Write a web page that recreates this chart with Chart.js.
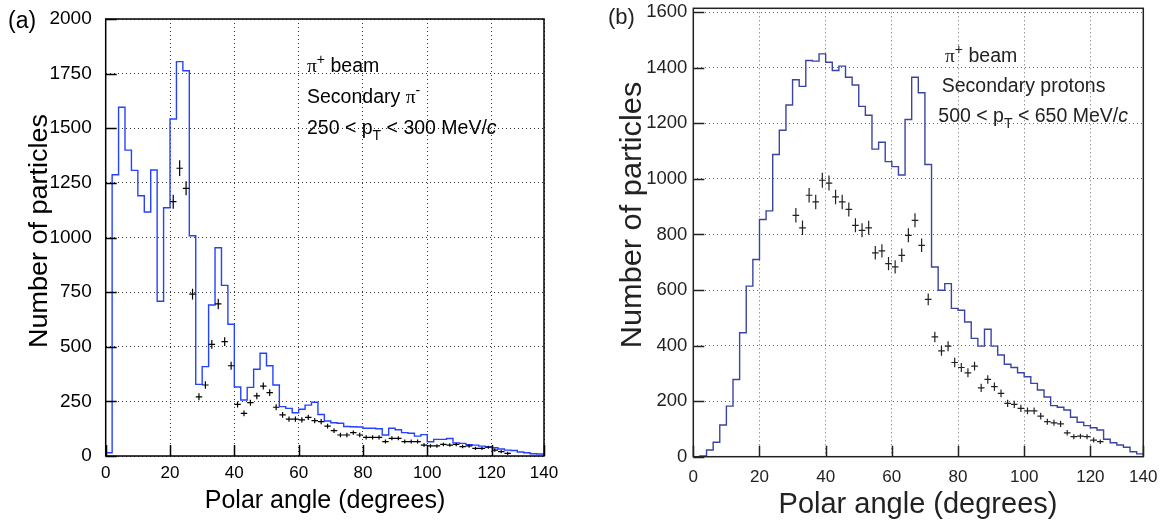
<!DOCTYPE html>
<html>
<head>
<meta charset="utf-8">
<script src="https://cdn.jsdelivr.net/npm/chart.js@4.4.0/dist/chart.umd.min.js"></script>
<style>
  body { margin: 0; background: #fff; }
  #wrap { position: relative; width: 1173px; height: 522px; overflow: hidden; }
  canvas { position: absolute; top: 0; }
  #chartA { left: 0; }
  #chartB { left: 585px; }
</style>
</head>
<body>
<div id="wrap">
  <canvas id="chartA" width="585" height="522"></canvas>
  <canvas id="chartB" width="588" height="522"></canvas>
</div>
<script>
const SANS = "'Liberation Sans', Arial, Helvetica, sans-serif";
const SERIF = "'Liberation Serif', 'Times New Roman', serif";

// left edges of the 2-degree histogram bins (both panels)
const binEdges = [0, 2, 4, 6, 8, 10, 12, 14, 16, 18, 20, 22, 24, 26, 28, 30, 32, 34, 36, 38,
  40, 42, 44, 46, 48, 50, 52, 54, 56, 58, 60, 62, 64, 66, 68, 70, 72, 74, 76, 78,
  80, 82, 84, 86, 88, 90, 92, 94, 96, 98, 100, 102, 104, 106, 108, 110, 112, 114, 116, 118,
  120, 122, 124, 126, 128, 130, 132, 134];

// (a) secondary pi-, simulation histogram
const pimHist = [15, 1287, 1596, 1400, 1307, 1191, 1117, 1309, 708, 1136,
  1542, 1805, 1763, 1008, 328, 409, 691, 953, 781, 603,
  316, 256, 314, 397, 470, 413, 325, 226, 218, 198,
  214, 233, 246, 190, 160, 152, 150, 135, 134, 133,
  127, 127, 125, 96, 127, 120, 107, 104, 91, 98,
  65, 76, 76, 80, 60, 58, 52, 50, 45, 42,
  38, 32, 27, 25, 18, 15, 10, 9];

// (a) measured points
const pimAngle = [21, 23, 25, 27, 29, 31, 33, 35, 37, 39, 41, 43, 45, 47, 49, 51, 53, 55, 57, 59,
  61, 63, 65, 67, 69, 71, 73, 75, 77, 79, 81, 83, 85, 87, 89, 91, 93, 95, 97, 99,
  101, 103, 105, 107, 109, 111, 113, 115, 117, 119, 121, 123, 125];
const pimCounts = [1164, 1317, 1225, 741, 271, 325, 511, 696, 523, 413, 236, 195, 244, 275, 320, 290, 223, 188, 169, 169,
  165, 177, 162, 157, 137, 116, 96, 96, 107, 96, 85, 85, 85, 66, 81, 81, 66, 66, 66, 50,
  46, 46, 53, 50, 53, 43, 46, 35, 35, 40, 27, 20, 12];
const pimErr = [32, 36, 32, 25, 16, 17, 20, 24, 20, 18, 14, 13, 14, 15, 16, 15, 14, 13, 12, 12,
  12, 12, 12, 12, 11, 11, 10, 10, 10, 10, 10, 10, 10, 9, 9, 9, 9, 9, 9, 8,
  8, 8, 8, 8, 8, 8, 8, 7, 7, 7, 7, 7, 7];

// (b) secondary protons, simulation histogram
const protonHist = [0, 3, 24, 52, 114, 182, 278, 446, 614, 710,
  854, 885, 1088, 1175, 1266, 1357, 1333, 1426, 1424, 1450,
  1420, 1390, 1406, 1366, 1338, 1261, 1229, 1107, 1132, 1062,
  1044, 1014, 1214, 1366, 1310, 1052, 683, 599, 623, 534,
  527, 485, 426, 398, 459, 398, 366, 333, 321, 302,
  288, 264, 240, 215, 184, 178, 168, 142, 124, 112,
  104, 96, 63, 50, 42, 34, 18, 10];

// (b) measured points
const protonAngle = [31, 33, 35, 37, 39, 41, 43, 45, 47, 49, 51, 53, 55, 57, 59, 61, 63, 65, 67, 69,
  71, 73, 75, 77, 79, 81, 83, 85, 87, 89, 91, 93, 95, 97, 99, 101, 103, 105, 107, 109,
  111, 113, 115, 117, 119, 121, 123];
const protonCounts = [869, 824, 941, 917, 995, 985, 935, 917, 890, 833, 815, 824, 734, 741, 695, 683, 725, 797, 851, 761,
  566, 431, 381, 398, 339, 321, 302, 326, 248, 278, 252, 228, 192, 188, 174, 165, 165, 146, 126, 122,
  118, 86, 72, 74, 72, 60, 54];
const protonErr = [26, 26, 26, 26, 27, 27, 26, 26, 25, 25, 25, 25, 24, 24, 24, 24, 24, 25, 25, 24,
  21, 19, 18, 18, 17, 16, 16, 16, 15, 15, 15, 14, 13, 13, 13, 12, 12, 12, 11, 11,
  11, 10, 9, 9, 9, 9, 8];

// tick labels; the last x label sits at the right edge of each frame
const xTickLabels = ['0', '20', '40', '60', '80', '100', '120', '140'];
const xTickValsA = [0, 20, 40, 60, 80, 100, 120, 136.3];
const xTickValsB = [0, 20, 40, 60, 80, 100, 120, 136];
const yTicksA = [0, 250, 500, 750, 1000, 1250, 1500, 1750, 2000];
const yTicksB = [0, 200, 400, 600, 800, 1000, 1200, 1400, 1600];

function histPoints(vals, end) {
  const pts = [{ x: binEdges[0], y: 0 }];
  binEdges.forEach((e, i) => pts.push({ x: e, y: vals[i] }));
  pts.push({ x: end, y: vals[vals.length - 1] });
  return pts;
}

function drawRuns(ctx, it) {
  const runs = typeof it.text === 'string' ? [{ t: it.text }] : it.text;
  const fontFor = r => (r.italic ? 'italic ' : '') + (r.sup || r.sub ? it.size * 0.72 : it.size) + 'px ' + (r.serif ? SERIF : SANS);
  ctx.save();
  ctx.fillStyle = it.color;
  ctx.textBaseline = it.baseline || 'alphabetic';
  ctx.textAlign = 'left';
  let total = 0;
  runs.forEach(r => { ctx.font = fontFor(r); total += ctx.measureText(r.t).width; });
  ctx.translate(it.x, it.y);
  if (it.rotate) ctx.rotate(it.rotate);
  if (it.stretch) ctx.scale(it.stretch, 1);
  let cx = it.center ? -total / 2 : 0;
  runs.forEach(r => {
    ctx.font = fontFor(r);
    const dy = r.sup ? -it.size * 0.42 : r.sub ? it.size * 0.32 : 0;
    ctx.fillText(r.t, cx, dy);
    cx += ctx.measureText(r.t).width;
  });
  ctx.restore();
}

// error crosses for datasets carrying errorBars
const crossPlugin = {
  id: 'crosses',
  afterDatasetsDraw(chart, args, o) {
    const { ctx, scales: { x, y } } = chart;
    ctx.save();
    ctx.strokeStyle = o.color;
    ctx.lineWidth = o.width;
    ctx.beginPath();
    chart.data.datasets.forEach(ds => {
      if (!ds.errorBars) return;
      ds.data.forEach((p, i) => {
        const px = x.getPixelForValue(p.x), py = y.getPixelForValue(p.y);
        ctx.moveTo(x.getPixelForValue(p.x - 1), py);
        ctx.lineTo(x.getPixelForValue(p.x + 1), py);
        ctx.moveTo(px, y.getPixelForValue(p.y - ds.errorBars[i]));
        ctx.lineTo(px, y.getPixelForValue(p.y + ds.errorBars[i]));
      });
    });
    ctx.stroke();
    ctx.restore();
  }
};

// box round the plot with inward tick marks, then the texts
const framePlugin = {
  id: 'frame',
  afterDraw(chart, args, o) {
    const { ctx, chartArea: a, scales: { x, y } } = chart;
    ctx.save();
    ctx.strokeStyle = o.color;
    ctx.lineWidth = o.width;
    ctx.strokeRect(a.left, a.top, a.right - a.left, a.bottom - a.top);
    ctx.beginPath();
    x.ticks.forEach(t => {
      const px = Math.round(x.getPixelForValue(t.value)) + 0.5;
      ctx.moveTo(px, a.bottom); ctx.lineTo(px, a.bottom - o.tick);
    });
    y.ticks.forEach(t => {
      const py = Math.round(y.getPixelForValue(t.value)) + 0.5;
      ctx.moveTo(a.left, py); ctx.lineTo(a.left + o.tick, py);
    });
    ctx.stroke();
    ctx.restore();
    o.items.forEach(it => drawRuns(ctx, Object.assign({ color: o.textColor }, it)));
  }
};

function zeroPad(s) {
  s.paddingTop = 0; s.paddingBottom = 0; s.paddingLeft = 0; s.paddingRight = 0;
}

function panel(id, o) {
  return new Chart(document.getElementById(id), {
    type: 'line',
    data: {
      datasets: [
        { data: histPoints(o.hist, o.xTicks[o.xTicks.length - 1]), stepped: 'before',
          borderColor: o.histColor, borderWidth: 1.4, pointRadius: 0, fill: false },
        { type: 'scatter', data: o.angles.map((v, i) => ({ x: v, y: o.counts[i] })),
          errorBars: o.errs, pointRadius: 0, showLine: false }
      ]
    },
    options: {
      responsive: false,
      animation: false,
      layout: { padding: o.pad },
      plugins: {
        legend: { display: false },
        tooltip: { enabled: false },
        crosses: { color: o.textColor, width: 1.2 },
        frame: { color: o.textColor, width: 1.5, tick: 11, textColor: o.textColor, items: o.items }
      },
      scales: {
        x: {
          type: 'linear', min: 0, max: o.xTicks[o.xTicks.length - 1],
          afterBuildTicks: s => { s.ticks = o.xTicks.map(v => ({ value: v })); },
          afterFit: s => { s.height = o.xAxisH; zeroPad(s); },
          ticks: { callback: (v, i) => xTickLabels[i], font: { family: SANS, size: 17 },
            color: o.textColor, padding: o.xPad, maxRotation: 0, autoSkip: false },
          grid: { color: o.gridColor, lineWidth: 1, drawTicks: false },
          border: { display: false, dash: [1, 3] }
        },
        y: {
          type: 'linear', min: 0, max: o.yMax,
          afterBuildTicks: s => { s.ticks = o.yTicks.map(v => ({ value: v })); },
          afterFit: s => { s.width = o.yAxisW; zeroPad(s); },
          ticks: { callback: v => String(v), autoSkip: false,
            font: { family: SANS, size: o.yFont }, color: o.textColor, padding: o.yPad },
          grid: { color: o.gridColor, lineWidth: 1, drawTicks: false },
          border: { display: false, dash: [1, 3] }
        }
      }
    },
    plugins: [crossPlugin, framePlugin]
  });
}

panel('chartA', {
  hist: pimHist, angles: pimAngle, counts: pimCounts, errs: pimErr,
  xTicks: xTickValsA, yTicks: yTicksA, yMax: 2000, yFont: 19,
  histColor: '#2442ff', textColor: '#000', gridColor: '#333',
  pad: { left: 0, top: 19, right: 41, bottom: 0 }, yAxisW: 105.7, xAxisH: 66, xPad: 7, yPad: 14,
  items: [
    { text: '(a)', x: 8, y: 28, size: 23 },
    { text: 'Number of particles', x: 40, y: 231, size: 25, stretch: 1.08, rotate: -Math.PI / 2, center: true, baseline: 'middle' },
    { text: 'Polar angle (degrees)', x: 325, y: 501, size: 25, center: true, baseline: 'middle' },
    { text: [{ t: 'π', serif: true }, { t: '+', sup: true }, { t: ' beam' }], x: 307, y: 71.7, size: 19.5 },
    { text: [{ t: 'Secondary ' }, { t: 'π', serif: true }, { t: '-', sup: true }], x: 307, y: 102.7, size: 19.5 },
    { text: [{ t: '250 < p' }, { t: 'T', sub: true }, { t: ' < 300 MeV/' }, { t: 'c', italic: true }], x: 307, y: 134, size: 19.5 }
  ]
});

panel('chartB', {
  hist: protonHist, angles: protonAngle, counts: protonCounts, errs: protonErr,
  xTicks: xTickValsB, yTicks: yTicksB, yMax: 1614, yFont: 18.5,
  histColor: '#3b44a2', textColor: '#222', gridColor: '#666',
  pad: { left: 0, top: 8.3, right: 29.7, bottom: 0 }, yAxisW: 108.3, xAxisH: 65.3, xPad: 10, yPad: 6,
  items: [
    { text: '(b)', x: 23, y: 24, size: 22 },
    { text: 'Number of particles', x: 47.5, y: 215, size: 29, stretch: 1.06, rotate: -Math.PI / 2, center: true, baseline: 'middle' },
    { text: 'Polar angle (degrees)', x: 333, y: 505, size: 29, center: true, baseline: 'middle' },
    { text: [{ t: 'π', serif: true }, { t: '+', sup: true }, { t: ' beam' }], x: 360, y: 61.7, size: 19.5 },
    { text: 'Secondary protons', x: 356.7, y: 91.7, size: 19.5 },
    { text: [{ t: '500 < p' }, { t: 'T', sub: true }, { t: ' < 650 MeV/' }, { t: 'c', italic: true }], x: 353.3, y: 121.7, size: 19.5 }
  ]
});
</script>
</body>
</html>
